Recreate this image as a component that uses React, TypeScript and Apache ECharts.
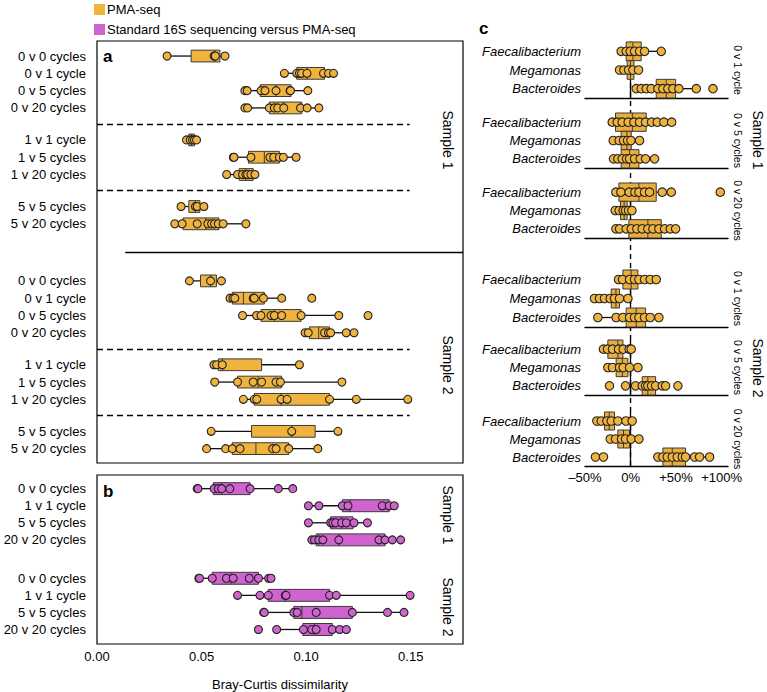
import React, { useEffect, useRef } from 'react';
import * as echarts from 'echarts';

const ORANGE = '#F0B43E';
const PURPLE = '#D163D1';
const FONT = 'Liberation Sans, Arial, Helvetica, sans-serif';

// ---------- Panel a (PMA-seq, Bray-Curtis) ----------
const rowLabelsA = ['0 v 0 cycles', '0 v 1 cycle', '0 v 5 cycles', '0 v 20 cycles', '1 v 1 cycle', '1 v 5 cycles', '1 v 20 cycles', '5 v 5 cycles', '5 v 20 cycles'];
const blocksA = [4, 3, 2];
// [lower whisker, Q1, median, Q3, upper whisker]
const boxesA_S1 = [
  [0.0335, 0.045, 0.0564, 0.0588, 0.0612],
  [0.0896, 0.0955, 0.1004, 0.1088, 0.1131],
  [0.0707, 0.078, 0.0856, 0.0928, 0.1008],
  [0.0707, 0.0824, 0.089, 0.0979, 0.1061],
  [0.0428, 0.0439, 0.0452, 0.0466, 0.0476],
  [0.0652, 0.0724, 0.08, 0.0872, 0.0952],
  [0.062, 0.068, 0.0712, 0.0747, 0.0755],
  [0.0402, 0.0439, 0.0471, 0.0492, 0.0511],
  [0.0372, 0.0412, 0.052, 0.0583, 0.0712],
];
const pointsA_S1 = [
  [0.0335, 0.056, 0.0566, 0.0612],
  [0.0896, 0.0955, 0.0968, 0.0978, 0.1004, 0.1083, 0.1107, 0.1131],
  [0.0707, 0.0718, 0.0784, 0.0803, 0.0856, 0.0923, 0.0925, 0.1008],
  [0.0707, 0.072, 0.0824, 0.0848, 0.0864, 0.0893, 0.0973, 0.1005, 0.1061],
  [0.0428, 0.0446, 0.0457, 0.0466, 0.0476],
  [0.0652, 0.0655, 0.0736, 0.0827, 0.0845, 0.0872, 0.0891, 0.0952],
  [0.062, 0.0672, 0.0696, 0.0712, 0.072, 0.0736, 0.0755],
  [0.0402, 0.0471, 0.0479, 0.0511],
  [0.0372, 0.0407, 0.0479, 0.053, 0.0548, 0.0562, 0.058, 0.0603, 0.0712],
];
const boxesA_S2 = [
  [0.0442, 0.0495, 0.0543, 0.0571, 0.0595],
  [0.0636, 0.0647, 0.07, 0.08, 0.0883],
  [0.0696, 0.0784, 0.0848, 0.0976, 0.1156],
  [0.0995, 0.1016, 0.106, 0.1112, 0.1229],
  [0.0559, 0.058, 0.06, 0.0787, 0.0968],
  [0.0563, 0.0672, 0.077, 0.0883, 0.1171],
  [0.07, 0.0752, 0.088, 0.1112, 0.1486],
  [0.0546, 0.0739, 0.0931, 0.1043, 0.1152],
  [0.0524, 0.0647, 0.076, 0.0917, 0.1056],
];
const pointsA_S2 = [
  [0.0442, 0.0543, 0.0595],
  [0.0636, 0.065, 0.0659, 0.0747, 0.0752, 0.0796, 0.0883, 0.1027],
  [0.0696, 0.0763, 0.0784, 0.0832, 0.0848, 0.0883, 0.0976, 0.1156, 0.1296],
  [0.0995, 0.101, 0.1088, 0.1107, 0.1117, 0.1192, 0.1229],
  [0.0559, 0.0572, 0.0599, 0.0968],
  [0.0563, 0.0672, 0.0747, 0.0787, 0.0856, 0.0877, 0.1171],
  [0.07, 0.0752, 0.0764, 0.088, 0.0909, 0.1112, 0.124, 0.1486],
  [0.0546, 0.0931, 0.1152],
  [0.0524, 0.0615, 0.0647, 0.0684, 0.084, 0.0856, 0.0917, 0.1056],
];

// ---------- Panel b (Standard 16S vs PMA-seq) ----------
const rowLabelsB = ['0 v 0 cycles', '1 v 1 cycle', '5 v 5 cycles', '20 v 20 cycles'];
const boxesB_S1 = [
  [0.0479, 0.0556, 0.0596, 0.0732, 0.0936],
  [0.1011, 0.1173, 0.121, 0.1397, 0.1421],
  [0.1011, 0.1117, 0.117, 0.1224, 0.1293],
  [0.1027, 0.1048, 0.1156, 0.1377, 0.1452],
];
const pointsB_S1 = [
  [0.0479, 0.0483, 0.056, 0.058, 0.0596, 0.0635, 0.0732, 0.0867, 0.0936],
  [0.1011, 0.1061, 0.1173, 0.12, 0.1364, 0.1397, 0.1421],
  [0.1011, 0.1117, 0.1128, 0.1141, 0.117, 0.1192, 0.1229, 0.1293],
  [0.1027, 0.104, 0.106, 0.108, 0.1156, 0.1348, 0.1377, 0.1412, 0.1452],
];
const boxesB_S2 = [
  [0.0487, 0.0551, 0.064, 0.0772, 0.0832],
  [0.0672, 0.0819, 0.0901, 0.1112, 0.1497],
  [0.0797, 0.0941, 0.098, 0.1221, 0.1468],
  [0.0859, 0.0984, 0.104, 0.1125, 0.1192],
];
const pointsB_S2 = [
  [0.0487, 0.049, 0.0551, 0.0619, 0.0651, 0.0728, 0.0772, 0.0821, 0.0832],
  [0.0672, 0.0779, 0.0819, 0.09, 0.0904, 0.1112, 0.1144, 0.1497],
  [0.0797, 0.08, 0.0941, 0.0957, 0.1048, 0.1221, 0.1389, 0.1468],
  [0.0772, 0.0859, 0.0987, 0.1027, 0.1048, 0.1125, 0.116, 0.1192],
];

// ---------- Panel c (relative change, %) ----------
const taxaC = ['Faecalibacterium', 'Megamonas', 'Bacteroides'];
const subLabelsC = ['0 v 1 cycle', '0 v 5 cycles', '0 v 20 cycles', '0 v 1 cycles', '0 v 5 cycles', '0 v 20 cycles'];
const xTicksC = [-50, 0, 50, 100];
const boxesC = [
  [[-10.3, -4.8, 2.6, 11.7, 33.7], [-12.1, -3.7, 0, 3.7, 8.8], [6.2, 28.2, 39.2, 49.5, 72.2]],
  [[-20.1, -16.5, 2, 17.2, 45.1], [-19.0, -10.3, -4, 0.7, 9.9], [-18.7, -10.3, -1.1, 9.2, 26.4]],
  [[-16.1, -12.8, 9.2, 28.2, 44.7], [-16.8, -11, -7, -3.7, 1.5], [-16.1, -1.8, 19.0, 33.7, 49.5]],
  [[-13.2, -8.4, 0.7, 8.1, 28.2], [-39.6, -21.2, -16, -12.1, -2.9], [-35.9, -4.8, 6.2, 16.5, 31.1]],
  [[-29.7, -24.9, -13.9, -8.4, 0.7], [-24.9, -15.8, -9, -2.9, 8.1], [5.5, 12.8, 19.0, 27.5, 38.5]],
  [[-37.0, -28.6, -23.4, -17.6, -5.1], [-22.3, -13.9, -7.7, -1.1, 9.2], [30.0, 35.5, 45.8, 60.4, 86.8]],
];
const pointsC = [
  [[-10.3, -4.8, -0.4, 4.4, 9.9, 15.4, 33.7], [-12.1, -7.3, -2.2, 2.6, 8.8], [6.2, 11.7, 17.2, 22.7, 30.0, 35.5, 41.0, 46.5, 53.1, 72.2, 90.5]],
  [[-20.1, -14.6, -9.2, -2.6, 3.7, 9.9, 16.5, 23.1, 29.3, 36.6, 45.1], [-19.0, -12.5, -7.7, -3.3, 0.4, 9.9], [-18.7, -14.0, -9.2, -4.4, -1.1, 4.4, 10.6, 16.5, 26.4]],
  [[-16.1, -10.6, -1.5, 4.8, 9.2, 15.4, 20.9, 34.8, 44.7, 98.5], [-16.8, -12.5, -8.1, -5.5, -2.2, 1.5], [-16.1, -12.1, -4.8, 0.7, 6.9, 12.8, 19.0, 24.5, 31.1, 37.4, 43.6, 49.5]],
  [[-13.2, -8.8, -1.1, 4.4, 9.2, 15.4, 21.6, 28.2], [-39.6, -34.1, -28.6, -22.3, -17.6, -12.1, -2.9], [-35.9, -15.8, -8.4, -1.1, 4.4, 9.2, 15.4, 21.6, 31.1]],
  [[-29.7, -25.3, -19.8, -13.2, -8.1, -1.5, 0.7], [-24.9, -19.8, -12.1, -8.1, -1.1, 8.1], [-23.1, -5.5, 5.5, 12.8, 16.5, 19.0, 23.1, 27.5, 34.8, 38.5, 52.0]],
  [[-37.0, -32.2, -26.0, -21.2, -13.9, -5.1, 1.8], [-22.3, -16.5, -9.9, -5.5, 0.7, 9.2], [-38.5, -29.7, 30.0, 35.5, 40.3, 45.8, 51.3, 56.8, 60.4, 70.3, 75.8, 86.8]],
];

const xTicksAB = [0, 0.05, 0.1, 0.15];
const legendNames = ['PMA-seq', 'Standard 16S sequencing versus PMA-seq'];

// ---------- layout helpers ----------
function rowPositions(blocks: number[], gap: number, sampleOffset: number, nSamples: number) {
  const out: number[] = [];
  for (let s = 0; s < nSamples; s++) {
    let idx = 0;
    blocks.forEach((n, b) => {
      for (let i = 0; i < n; i++) {
        out.push(s * sampleOffset + idx + b * gap);
        idx++;
      }
    });
  }
  return out;
}

function makeBoxRenderer(color: string, thickness: number) {
  return (params: any, api: any) => {
    const y = api.value(0);
    const pLo = api.coord([api.value(1), y]);
    const pQ1 = api.coord([api.value(2), y]);
    const pMed = api.coord([api.value(3), y]);
    const pQ3 = api.coord([api.value(4), y]);
    const pHi = api.coord([api.value(5), y]);
    const h = Math.abs(api.size([0, thickness])[1]);
    const cy = pLo[1];
    const wl = { stroke: '#111', lineWidth: 1.3 };
    return {
      type: 'group',
      children: [
        { type: 'line', shape: { x1: pLo[0], y1: cy, x2: pQ1[0], y2: cy }, style: wl },
        { type: 'line', shape: { x1: pQ3[0], y1: cy, x2: pHi[0], y2: cy }, style: wl },
        { type: 'rect', shape: { x: pQ1[0], y: cy - h / 2, width: pQ3[0] - pQ1[0], height: h }, style: { fill: color, stroke: '#3a3a3a', lineWidth: 1 } },
        { type: 'line', shape: { x1: pMed[0], y1: cy - h / 2, x2: pMed[0], y2: cy + h / 2 }, style: { stroke: '#3a3a3a', lineWidth: 1 } },
      ],
    };
  };
}

function labelFormatter(positions: number[], labels: string[]) {
  return (v: number) => {
    for (let i = 0; i < positions.length; i++) {
      if (Math.abs(positions[i] - v) < 1e-6) return labels[i];
    }
    return '';
  };
}

function buildOption() {
  const posA = rowPositions(blocksA, 0.85, 13, 2);
  const posB = rowPositions([4], 0, 5.25, 2);
  const labelsA = [...rowLabelsA, ...rowLabelsA];
  const labelsB = [...rowLabelsB, ...rowLabelsB];
  const boxesA = [...boxesA_S1, ...boxesA_S2];
  const ptsA = [...pointsA_S1, ...pointsA_S2];
  const boxesB = [...boxesB_S1, ...boxesB_S2];
  const ptsB = [...pointsB_S1, ...pointsB_S2];

  // separators in panel a
  const sepLines: any[] = [];
  for (let s = 0; s < 2; s++) {
    let idx = s * 9;
    blocksA.forEach((n, b) => {
      idx += n;
      if (b < blocksA.length - 1) {
        const y = (posA[idx - 1] + posA[idx]) / 2;
        sepLines.push([{ coord: [0, y], lineStyle: { type: [6, 4], color: '#000', width: 1.3 } }, { coord: [0.1495, y] }]);
      }
    });
  }
  const ySolid = (posA[8] + posA[9]) / 2;
  sepLines.push([{ coord: [0.0135, ySolid], lineStyle: { type: 'solid', color: '#000', width: 1.3 } }, { coord: [0.175, ySolid] }]);

  const cTops = [42, 113, 183, 270, 340, 412];
  const cHeights = [56, 55, 55, 57, 55, 54];

  const grids: any[] = [
    { left: 97, top: 41, width: 366, height: 422, show: true, borderColor: '#000', borderWidth: 1.2, backgroundColor: 'transparent' },
    { left: 97, top: 475, width: 366, height: 174, show: true, borderColor: '#000', borderWidth: 1.2, backgroundColor: 'transparent' },
  ];
  cTops.forEach((t, k) => grids.push({ left: 585, top: t, width: 143, height: cHeights[k] }));
  grids.push({ left: 585, top: 42, width: 143, height: 424 });

  const xAxes: any[] = [
    { gridIndex: 0, type: 'value', min: 0, max: 0.175, interval: 0.05, show: false },
    {
      gridIndex: 1, type: 'value', min: 0, max: 0.175, interval: 0.05,
      axisLine: { show: false }, axisTick: { show: false }, splitLine: { show: false },
      axisLabel: { fontSize: 13, color: '#000', margin: 6, showMaxLabel: false, formatter: (v: number) => (xTicksAB.includes(Math.round(v * 100) / 100) ? v.toFixed(2) : '') },
      name: 'Bray-Curtis dissimilarity', nameLocation: 'middle', nameGap: 34,
      nameTextStyle: { fontSize: 13, color: '#000' },
    },
  ];
  const yAxes: any[] = [
    {
      gridIndex: 0, type: 'value', inverse: true, min: -0.87, max: 23.53,
      axisLine: { show: false }, axisTick: { show: false }, splitLine: { show: false },
      axisLabel: { customValues: posA, formatter: labelFormatter(posA, labelsA), fontSize: 13, color: '#000', margin: 11 },
    },
    {
      gridIndex: 1, type: 'value', inverse: true, min: -0.8, max: 9.1,
      axisLine: { show: false }, axisTick: { show: false }, splitLine: { show: false },
      axisLabel: { customValues: posB, formatter: labelFormatter(posB, labelsB), fontSize: 13, color: '#000', margin: 11 },
    },
  ];
  cTops.forEach((_, k) => {
    const last = k === cTops.length - 1;
    xAxes.push({
      gridIndex: 2 + k, type: 'value', min: -50, max: 107, interval: 50,
      axisLine: { show: true, lineStyle: { color: '#000', width: 1.3 } },
      axisTick: { show: false }, splitLine: { show: false },
      axisLabel: {
        show: last, fontSize: 13, color: '#000', margin: 5, showMaxLabel: false,
        formatter: (v: number) => (xTicksC.includes(v) ? (v < 0 ? '\u2013' + Math.abs(v) + '%' : v > 0 ? '+' + v + '%' : '0%') : ''),
      },
    });
    yAxes.push({
      gridIndex: 2 + k, type: 'category', data: taxaC, inverse: true,
      axisLine: { show: true, lineStyle: { color: '#000', width: 1.3 } },
      axisTick: { show: false }, splitLine: { show: false },
      axisLabel: { fontSize: 13, color: '#000', fontStyle: 'italic', margin: 4 },
    });
  });
  xAxes.push({ gridIndex: 8, type: 'value', min: -50, max: 107, show: false });
  yAxes.push({ gridIndex: 8, type: 'value', min: 0, max: 1, show: false });

  const series: any[] = [];
  series.push({
    name: legendNames[0], type: 'custom', xAxisIndex: 0, yAxisIndex: 0,
    itemStyle: { color: ORANGE },
    encode: { x: [1, 2, 3, 4, 5], y: 0 },
    renderItem: makeBoxRenderer(ORANGE, 0.68),
    data: boxesA.map((b, i) => [posA[i], ...b]),
  });
  series.push({
    name: 'a-points', type: 'scatter', xAxisIndex: 0, yAxisIndex: 0,
    symbolSize: 8, itemStyle: { color: ORANGE, borderColor: '#222', borderWidth: 1.1, opacity: 1 },
    data: ptsA.flatMap((arr, i) => arr.map((v) => [v, posA[i]])),
    markLine: { silent: true, symbol: ['none', 'none'], label: { show: false }, data: sepLines },
  });
  series.push({
    name: legendNames[1], type: 'custom', xAxisIndex: 1, yAxisIndex: 1,
    itemStyle: { color: PURPLE },
    encode: { x: [1, 2, 3, 4, 5], y: 0 },
    renderItem: makeBoxRenderer(PURPLE, 0.7),
    data: boxesB.map((b, i) => [posB[i], ...b]),
  });
  series.push({
    name: 'b-points', type: 'scatter', xAxisIndex: 1, yAxisIndex: 1,
    symbolSize: 8, itemStyle: { color: PURPLE, borderColor: '#222', borderWidth: 1.1, opacity: 1 },
    data: ptsB.flatMap((arr, i) => arr.map((v) => [v, posB[i]])),
  });
  boxesC.forEach((panel, k) => {
    series.push({
      name: 'c-box-' + k, type: 'custom', xAxisIndex: 2 + k, yAxisIndex: 2 + k,
      itemStyle: { color: ORANGE },
      encode: { x: [1, 2, 3, 4, 5], y: 0 },
      renderItem: makeBoxRenderer('#E9AE3E', 0.64),
      data: panel.map((b, j) => [j, ...b]),
    });
    series.push({
      name: 'c-points-' + k, type: 'scatter', xAxisIndex: 2 + k, yAxisIndex: 2 + k,
      symbolSize: 8.5, itemStyle: { color: ORANGE, borderColor: '#222', borderWidth: 1.1, opacity: 1 },
      data: pointsC[k].flatMap((arr, j) => arr.map((v) => [v, j])),
    });
  });
  series.push({
    name: 'zero-line', type: 'line', xAxisIndex: 8, yAxisIndex: 8, symbol: 'none', silent: true, z: 1,
    lineStyle: { color: '#000', width: 1.4, type: [5, 4] },
    data: [[0, 0], [0, 1]],
  });

  const rotText = (text: string, x: number, y: number, size: number) => ({
    type: 'text', x, y, rotation: -Math.PI / 2,
    style: { text, fontSize: size, fill: '#000', align: 'center', verticalAlign: 'middle', fontFamily: FONT },
  });
  const graphics: any[] = [
    { type: 'text', x: 103, y: 56, style: { text: 'a', fontSize: 17, fontWeight: 'bold', fill: '#000', verticalAlign: 'middle', fontFamily: FONT } },
    { type: 'text', x: 103, y: 491, style: { text: 'b', fontSize: 17, fontWeight: 'bold', fill: '#000', verticalAlign: 'middle', fontFamily: FONT } },
    { type: 'text', x: 479, y: 28, style: { text: 'c', fontSize: 17, fontWeight: 'bold', fill: '#000', verticalAlign: 'middle', fontFamily: FONT } },
    rotText('Sample 1', 448, 140, 14),
    rotText('Sample 2', 448, 365, 14),
    rotText('Sample 1', 448, 515, 14),
    rotText('Sample 2', 448, 607, 14),
    rotText('Sample 1', 758, 140, 14),
    rotText('Sample 2', 758, 368, 14),
  ];
  cTops.forEach((t, k) => graphics.push(rotText(subLabelsC[k], 738, t + cHeights[k] / 2, 10.5)));

  return {
    animation: false,
    textStyle: { fontFamily: FONT },
    legend: {
      orient: 'vertical', left: 94, top: 3, padding: 0, itemWidth: 11, itemHeight: 11, itemGap: 7,
      selectedMode: false,
      textStyle: { fontSize: 13, color: '#000', padding: [0, 0, 0, -3] },
      data: legendNames.map((n) => ({ name: n, icon: 'rect' })),
    },
    grid: grids,
    xAxis: xAxes,
    yAxis: yAxes,
    series,
    graphic: graphics,
  };
}

export default function App() {
  const ref = useRef<HTMLDivElement>(null);
  useEffect(() => {
    if (!ref.current) return;
    const chart = echarts.init(ref.current, undefined, { renderer: 'svg' });
    chart.setOption(buildOption() as any);
    return () => chart.dispose();
  }, []);
  return <div ref={ref} style={{ position: 'absolute', left: 0, top: 0, width: 767, height: 692, background: '#fff' }} />;
}
